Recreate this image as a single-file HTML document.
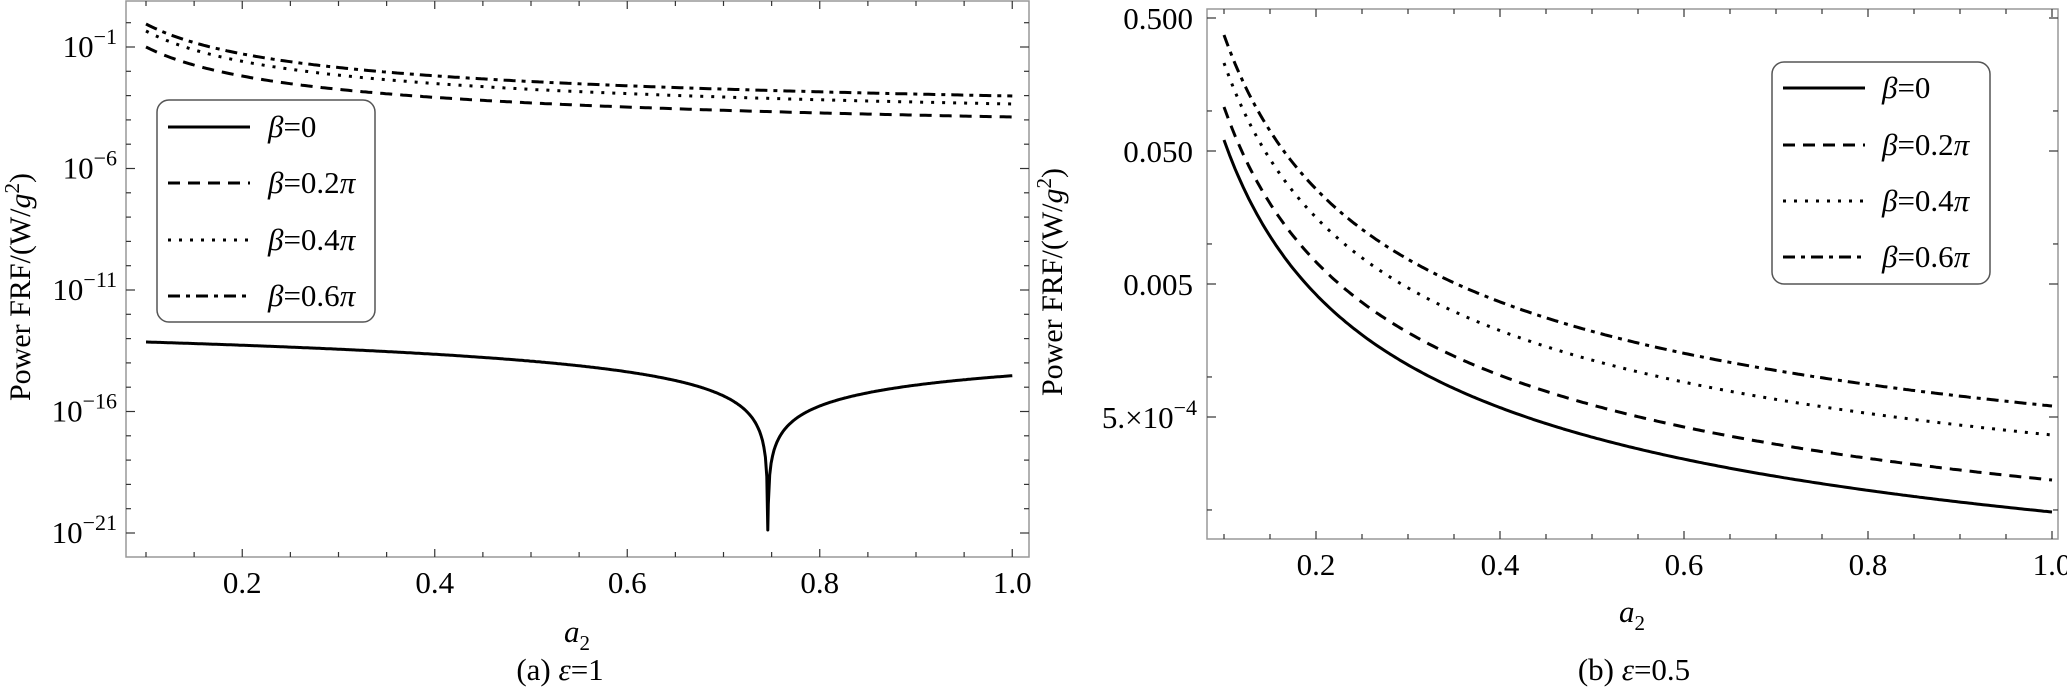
<!DOCTYPE html>
<html><head><meta charset="utf-8"><style>
body{margin:0;background:#fff}
svg{display:block}
svg text{font-family:"Liberation Serif","Times New Roman","DejaVu Serif",serif}
</style></head><body>
<svg id="s" width="2067" height="690" xmlns="http://www.w3.org/2000/svg"></svg>
<script>
const s=document.getElementById('s');let h='';
const f=(a,q=0.45)=>(1-Math.pow(0.1/a,q))/(1-Math.pow(0.1,q));
function pathPts(pts,pat,w=3){let d=pts.map((p,i)=>(i?'L':'M')+p[0].toFixed(1)+','+p[1].toFixed(1)).join('');
h+=`<path d="${d}" fill="none" stroke="#000" stroke-width="${w}" ${pat?`stroke-dasharray="${pat}"`:''} stroke-linecap="butt" stroke-linejoin="round"/>`;}
function path(fn,pat,w=3){const p=[];for(let i=0;i<=300;i++){p.push(fn(0.1+0.9*i/300));}pathPts(p,pat,w);}
const DASH='12,8',DOT='3,8',DD='12,6,4,6';
const T=(x,y,sz,anchor,content,extra='')=>`<text x="${x}" y="${y}" font-size="${sz}" text-anchor="${anchor}" ${extra}>${content}</text>`;
// LEFT panel
const L={l:126,r:1029,t:1,b:557};
const lx=a=>146+(a-0.1)*962.5;
const ly=e=>47+(-1-e)*24.3;
h+=`<rect x="${L.l}" y="${L.t}" width="${L.r-L.l}" height="${L.b-L.t}" fill="none" stroke="#999" stroke-width="1.5"/>`;
for(let k=0;k<=18;k++){const a=0.1+k*0.05,x=lx(a),m=(k%4==2);h+=`<line x1="${x}" y1="${L.b}" x2="${x}" y2="${L.b-(m?8:5)}" stroke="#333" stroke-width="1.2"/><line x1="${x}" y1="${L.t}" x2="${x}" y2="${L.t+(m?8:5)}" stroke="#333" stroke-width="1.2"/>`;}
[0.2,0.4,0.6,0.8,1.0].forEach(a=>h+=T(lx(a),593,31,'middle',a.toFixed(1)));
for(let e=1;e>=-22;e--){const y=ly(e);if(y<L.t||y>L.b)continue;const m=((-1-e)%5==0);h+=`<line x1="${L.l}" y1="${y}" x2="${L.l+(m?9:5)}" y2="${y}" stroke="#333" stroke-width="1.2"/><line x1="${L.r}" y1="${y}" x2="${L.r-(m?9:5)}" y2="${y}" stroke="#333" stroke-width="1.2"/>`;
if(m)h+=T(117,y+10,31,'end',`10<tspan dy="-13" font-size="22">−${-e}</tspan>`);}
h+=`<text transform="translate(30,287) rotate(-90)" font-size="30" text-anchor="middle">Power FRF/(W/<tspan font-style="italic">g</tspan><tspan dy="-11" font-size="21">2</tspan><tspan dy="11">)</tspan></text>`;
h+=T(577,642,31,'middle',`a<tspan dy="8" font-size="21" font-style="normal">2</tspan>`,'font-style="italic"');
h+=T(560,680,31,'middle',`(a) <tspan font-style="italic">ε</tspan>=1`);
path(a=>[lx(a),47+70*f(a)],DASH);
path(a=>[lx(a),31+73*f(a)],DOT);
path(a=>[lx(a),24+72*f(a)],DD);
// beta=0 cusp
const a0=0.746;
function b0(a){const dv=Math.abs(a-a0);let base=a<a0?342-2*(a-0.1)/0.646:353+3*(a-a0)/0.254;
 let y=base-48.6*Math.log10(Math.max(dv,1e-9)/0.646);return [lx(a),Math.min(y,530)];}
const bp=[];for(let i=0;i<=600;i++){const a=0.1+0.9*i/600;if(a>a0&&bp.length&&bp[bp.length-1][0]<lx(a0)){bp.push([lx(a0),530]);}bp.push(b0(a));}
pathPts(bp,'');
// legend
function legend(x0,y0,w,hh,ys,lx0,lx1,tx){h+=`<rect x="${x0}" y="${y0}" width="${w}" height="${hh}" rx="12" fill="#fff" stroke="#555" stroke-width="1.5"/>`;
const pats=['',DASH,DOT,DD],labs=['0','0.2<tspan font-style="italic">π</tspan>','0.4<tspan font-style="italic">π</tspan>','0.6<tspan font-style="italic">π</tspan>'];
ys.forEach((y,i)=>{h+=`<line x1="${lx0}" y1="${y}" x2="${lx1}" y2="${y}" stroke="#000" stroke-width="3" ${pats[i]?`stroke-dasharray="${pats[i]}"`:''}/>`;
h+=T(tx,y+10,31,'start',`<tspan font-style="italic">β</tspan>=${labs[i]}`);});}
legend(157,100,218,222,[127,183,240,296],168,250,268);
// RIGHT panel
const R={l:1207,r:2058,t:9,b:539};
const rx=a=>1224+(a-0.1)*920;
const ry=v=>18+(Math.log10(0.5)-Math.log10(v))*133;
h+=`<rect x="${R.l}" y="${R.t}" width="${R.r-R.l}" height="${R.b-R.t}" fill="none" stroke="#999" stroke-width="1.5"/>`;
for(let k=-1;k<=18;k++){const a=0.1+k*0.05,x=rx(a);if(x<R.l)continue;const m=(k%4==2);h+=`<line x1="${x}" y1="${R.b}" x2="${x}" y2="${R.b-(m?8:5)}" stroke="#333" stroke-width="1.2"/><line x1="${x}" y1="${R.t}" x2="${x}" y2="${R.t+(m?8:5)}" stroke="#333" stroke-width="1.2"/>`;}
[0.2,0.4,0.6,0.8,1.0].forEach(a=>h+=T(rx(a),575,31,'middle',a.toFixed(1)));
[0.5,0.1,0.05,0.01,0.005,0.001,0.0005,0.0001].forEach(v=>{const y=ry(v);const m=[0.5,0.05,0.005,0.0005].includes(v);h+=`<line x1="${R.l}" y1="${y}" x2="${R.l+(m?9:5)}" y2="${y}" stroke="#333" stroke-width="1.2"/><line x1="${R.r}" y1="${y}" x2="${R.r-(m?9:5)}" y2="${y}" stroke="#333" stroke-width="1.2"/>`;});
h+=T(1193,ry(0.5)+11,31,'end','0.500');
h+=T(1193,ry(0.05)+11,31,'end','0.050');
h+=T(1193,ry(0.005)+11,31,'end','0.005');
h+=T(1197,ry(0.0005)+11,31,'end',`5.×10<tspan dy="-13" font-size="22">−4</tspan>`);
h+=`<text transform="translate(1062,282) rotate(-90)" font-size="30" text-anchor="middle">Power FRF/(W/<tspan font-style="italic">g</tspan><tspan dy="-11" font-size="21">2</tspan><tspan dy="11">)</tspan></text>`;
h+=T(1632,622,31,'middle',`a<tspan dy="8" font-size="21" font-style="normal">2</tspan>`,'font-style="italic"');
h+=T(1634,680,31,'middle',`(b) <tspan font-style="italic">ε</tspan>=0.5`);
path(a=>[rx(a),140+372*f(a)],'');
path(a=>[rx(a),107+373*f(a)],DASH);
path(a=>[rx(a),63+372*f(a)],DOT);
path(a=>[rx(a),35+371*f(a)],DD);
legend(1772,62,218,222,[88,145,201,257],1783,1865,1882);
s.innerHTML=h;
</script>
</body></html>
